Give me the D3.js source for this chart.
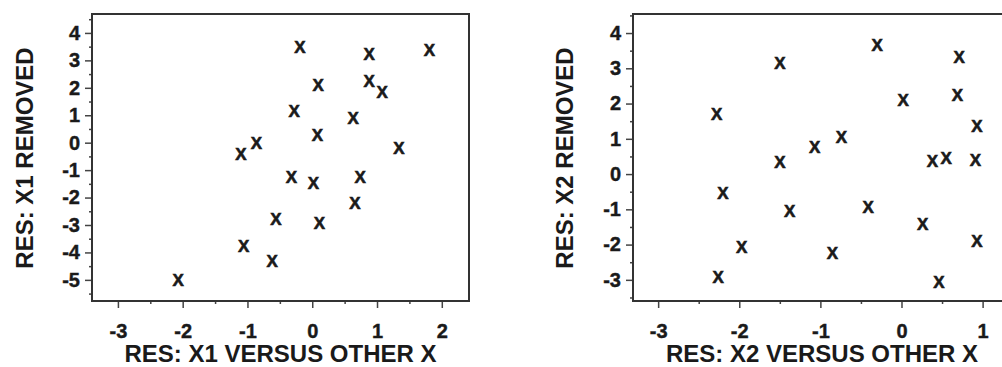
<!DOCTYPE html>
<html>
<head>
<meta charset="utf-8">
<script src="https://cdn.jsdelivr.net/npm/d3@7"></script>
<style>
  body { margin: 0; background: #fff; }
  svg { display: block; }
  text { font-family: "Liberation Sans", Arial, sans-serif; font-weight: bold; fill: #1a1a1a; }
</style>
</head>
<body>
<svg id="chart"></svg>
<script>
// partial residual data
var x1Res = [-0.19, 0.88, 1.81, 0.09, 0.88, 1.08, -0.28, 0.63, 0.08, -0.86, -1.10,
             1.34, -0.32, 0.02, 0.74, 0.66, -0.56, 0.11, -1.06, -0.62, -2.07];
var y1Res = [3.49, 3.24, 3.38, 2.11, 2.25, 1.85, 1.16, 0.90, 0.28, 0.00, -0.41,
             -0.19, -1.25, -1.47, -1.25, -2.19, -2.78, -2.92, -3.76, -4.31, -5.00];

var x2Res = [-2.28, -1.50, -0.30, 0.71, 0.02, 0.69, 0.93, -0.74, -1.07, -1.50, 0.38,
             0.55, 0.91, -2.20, -1.97, -2.26, -1.38, -0.41, 0.26, 0.93, -0.85, 0.46];
var y2Res = [1.70, 3.14, 3.65, 3.31, 2.10, 2.24, 1.36, 1.05, 0.76, 0.34, 0.37,
             0.45, 0.40, -0.54, -2.07, -2.92, -1.05, -0.93, -1.42, -1.90, -2.24, -3.06];

var x1Ticks = [-3, -2, -1, 0, 1, 2];
var y1Ticks = [4, 3, 2, 1, 0, -1, -2, -3, -4, -5];
var x2Ticks = [-3, -2, -1, 0, 1];
var y2Ticks = [4, 3, 2, 1, 0, -1, -2, -3];

var width = 1002, height = 367;
var svg = d3.select("#chart").attr("width", width).attr("height", height);

var panels = [
    {
        xs: x1Res, ys: y1Res, xTicks: x1Ticks, yTicks: y1Ticks,
        xDomain: [-3.4, 2.42], yDomain: [-5.77, 4.69],
        left: 92, right: 469, top: 14, bottom: 301,
        xTitle: "RES: X1 VERSUS OTHER X", yTitle: "RES: X1 REMOVED", yTitleX: 33
    },
    {
        xs: x2Res, ys: y2Res, xTicks: x2Ticks, yTicks: y2Ticks,
        xDomain: [-3.31, 1.35], yDomain: [-3.6, 4.54],
        left: 633, right: 1011, top: 14, bottom: 301,
        xTitle: "RES: X2 VERSUS OTHER X", yTitle: "RES: X2 REMOVED", yTitleX: 573
    }
];

// minor ticks at every half unit inside the domain
function halves(domain) {
    var out = [];
    for (var v = Math.ceil(domain[0] * 2) / 2; v <= domain[1]; v += 0.5) {
        if (v % 1 !== 0) out.push(v);
    }
    return out;
}

var fmt = d => String(d); // plain hyphen minus, like the original

panels.forEach(function(p) {
    var xScale = d3.scaleLinear().domain(p.xDomain).range([p.left, p.right]);
    var yScale = d3.scaleLinear().domain(p.yDomain).range([p.bottom, p.top]);

    var g = svg.append("g");

    // minor ticks
    g.append("g")
        .attr("transform", `translate(0, ${p.bottom})`)
        .call(d3.axisBottom(xScale).tickValues(halves(p.xDomain)).tickSize(3).tickFormat(""))
        .call(a => a.select(".domain").remove());
    g.append("g")
        .attr("transform", `translate(${p.left}, 0)`)
        .call(d3.axisLeft(yScale).tickValues(halves(p.yDomain)).tickSize(3).tickFormat(""))
        .call(a => a.select(".domain").remove());

    // major ticks + labels
    var xAxis = g.append("g")
        .attr("transform", `translate(0, ${p.bottom})`)
        .call(d3.axisBottom(xScale).tickValues(p.xTicks).tickSize(7).tickPadding(16).tickFormat(fmt));
    var yAxis = g.append("g")
        .attr("transform", `translate(${p.left}, 0)`)
        .call(d3.axisLeft(yScale).tickValues(p.yTicks).tickSize(7).tickPadding(5).tickFormat(fmt));

    [xAxis, yAxis].forEach(function(a) {
        a.select(".domain").remove();
        a.attr("font-size", null).attr("font-family", null);
        a.selectAll("text")
            .attr("font-size", 20)
            .attr("stroke", "#1a1a1a")
            .attr("stroke-width", 0.4);
    });
    g.selectAll(".tick line").attr("stroke", "#444").attr("stroke-width", 1.5);

    // frame
    g.append("rect")
        .attr("x", p.left).attr("y", p.top)
        .attr("width", p.right - p.left).attr("height", p.bottom - p.top)
        .attr("fill", "none").attr("stroke", "#333").attr("stroke-width", 2);

    // axis titles
    g.append("text")
        .attr("x", (p.left + p.right) / 2)
        .attr("y", 362)
        .attr("text-anchor", "middle")
        .attr("font-size", 24)
        .text(p.xTitle);
    g.append("text")
        .attr("transform", `translate(${p.yTitleX}, 158) rotate(-90)`)
        .attr("text-anchor", "middle")
        .attr("font-size", 24)
        .text(p.yTitle);

    // points drawn as x symbols
    g.selectAll(".pt")
        .data(d3.zip(p.xs, p.ys))
        .enter()
        .append("text")
        .attr("class", "pt")
        .attr("x", d => xScale(d[0]))
        .attr("y", d => yScale(d[1]))
        .attr("text-anchor", "middle")
        .attr("dy", "0.36em")
        .attr("font-size", 17)
        .attr("stroke", "#1a1a1a")
        .attr("stroke-width", 0.6)
        .text("X");
});
</script>
</body>
</html>
